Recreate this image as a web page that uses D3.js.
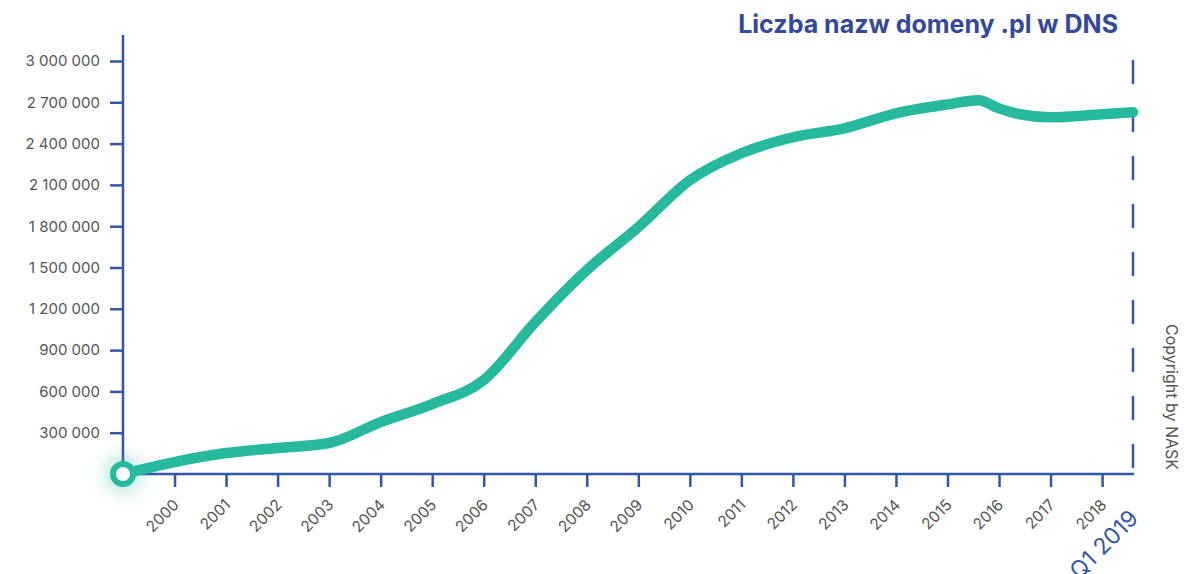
<!DOCTYPE html>
<html lang="pl">
<head>
<meta charset="UTF-8">
<title>Liczba nazw domeny .pl w DNS</title>
<script src="https://d3js.org/d3.v7.min.js"></script>
<style>
  body { margin: 0; background: #fff; }
  svg text { font-family: Inter, "Open Sans", sans-serif; }
</style>
</head>
<body>
<div id="chart"></div>
<script>
// data (decimal years, number of .pl names)
const years = [1999, 2000, 2001, 2002, 2003, 2004, 2005, 2006, 2007, 2008, 2009, 2010,
               2011, 2012, 2013, 2014, 2015, 2015.6, 2016, 2016.4, 2017, 2018, 2018.6];
const domains = [0, 87000, 152000, 189000, 225000, 377000, 508000, 682000, 1103000, 1481000,
                 1793000, 2134000, 2330000, 2446000, 2511000, 2620000, 2685000, 2715000,
                 2656000, 2613000, 2591000, 2613000, 2627000];
const yearTicks = [2000, 2001, 2002, 2003, 2004, 2005, 2006, 2007, 2008, 2009, 2010,
                   2011, 2012, 2013, 2014, 2015, 2016, 2017, 2018];
const valueTicks = [300000, 600000, 900000, 1200000, 1500000, 1800000, 2100000, 2400000, 2700000, 3000000];
const lastLabel = "Q1 2019";
const title = "Liczba nazw domeny .pl w DNS";

const W = 1191, H = 574;
const axisColor = "#3556a8", lineColor = "#26b99e", textColor = "#555";

const svg = d3.select("#chart").append("svg")
  .attr("width", W).attr("height", H);

const x = d3.scaleLinear().domain([1999, 2018.6]).range([123, 1133]);
const y = d3.scaleLinear().domain([0, 3000000]).range([474, 61]);

const fmt = d3.format(",d");

// y axis
const yAxis = svg.append("g")
  .attr("transform", "translate(123,0)")
  .call(d3.axisLeft(y).tickValues(valueTicks).tickSize(13).tickPadding(10).tickFormat(d => fmt(d).replace(/,/g, " ")));
yAxis.select(".domain").remove();
yAxis.selectAll(".tick line").attr("stroke", axisColor).attr("stroke-width", 2.5);
yAxis.selectAll(".tick text").attr("fill", textColor).style("font-size", "15px");
svg.append("line")
  .attr("x1", 123).attr("x2", 123).attr("y1", 35).attr("y2", 475)
  .attr("stroke", axisColor).attr("stroke-width", 2.5);

// x axis
const xAxis = svg.append("g")
  .attr("transform", "translate(0,474)")
  .call(d3.axisBottom(x).tickValues(yearTicks).tickSize(13).tickFormat(d3.format("d")));
xAxis.select(".domain").remove();
xAxis.selectAll(".tick line").attr("stroke", axisColor).attr("stroke-width", 2.5);
xAxis.selectAll(".tick text")
  .attr("fill", textColor).style("font-size", "15.5px")
  .attr("text-anchor", "end")
  .attr("dy", "0.35em")
  .attr("transform", "translate(1,28) rotate(-45)")
  .attr("x", 0).attr("y", 0);
svg.append("line")
  .attr("x1", 123).attr("x2", 1134).attr("y1", 474).attr("y2", 474)
  .attr("stroke", axisColor).attr("stroke-width", 2.5);

svg.append("text")
  .attr("transform", `translate(${x(2018.6) + 1},${474 + 40}) rotate(-45)`)
  .attr("text-anchor", "end")
  .attr("dy", "0.35em")
  .attr("fill", axisColor)
  .style("font-size", "23px")
  .text(lastLabel);

// dashed marker for last quarter
svg.append("line")
  .attr("x1", x(2018.6)).attr("x2", x(2018.6))
  .attr("y1", 60).attr("y2", 474)
  .attr("stroke", axisColor).attr("stroke-width", 2.5)
  .attr("stroke-dasharray", "24 24");

// line
const pts = years.map((d, i) => [d, domains[i]]);
svg.append("path")
  .datum(pts)
  .attr("fill", "none")
  .attr("stroke", lineColor)
  .attr("stroke-width", 10.5)
  .attr("stroke-linecap", "round")
  .attr("stroke-linejoin", "round")
  .attr("d", d3.line().curve(d3.curveMonotoneX).x(d => x(d[0])).y(d => y(d[1])));

// start marker with glow
const defs = svg.append("defs");
defs.append("filter").attr("id", "glow").attr("x", "-2").attr("y", "-2").attr("width", "5").attr("height", "5")
  .append("feGaussianBlur").attr("stdDeviation", 9);
svg.append("circle")
  .attr("cx", x(1999)).attr("cy", y(0)).attr("r", 18)
  .attr("fill", lineColor).attr("opacity", 0.35).attr("filter", "url(#glow)");
svg.append("circle")
  .attr("cx", x(1999)).attr("cy", y(0)).attr("r", 10)
  .attr("fill", "#fff").attr("stroke", lineColor).attr("stroke-width", 6);

// title
svg.append("text")
  .attr("x", 1118).attr("y", 33)
  .attr("text-anchor", "end")
  .attr("fill", "#34499a")
  .style("font-size", "25px").style("font-weight", "700")
  .text(title);

// copyright
svg.append("text")
  .attr("transform", "translate(1166,397) rotate(90)")
  .attr("text-anchor", "middle")
  .attr("fill", textColor)
  .style("font-size", "16px")
  .text("Copyright by NASK");
</script>
</body>
</html>
